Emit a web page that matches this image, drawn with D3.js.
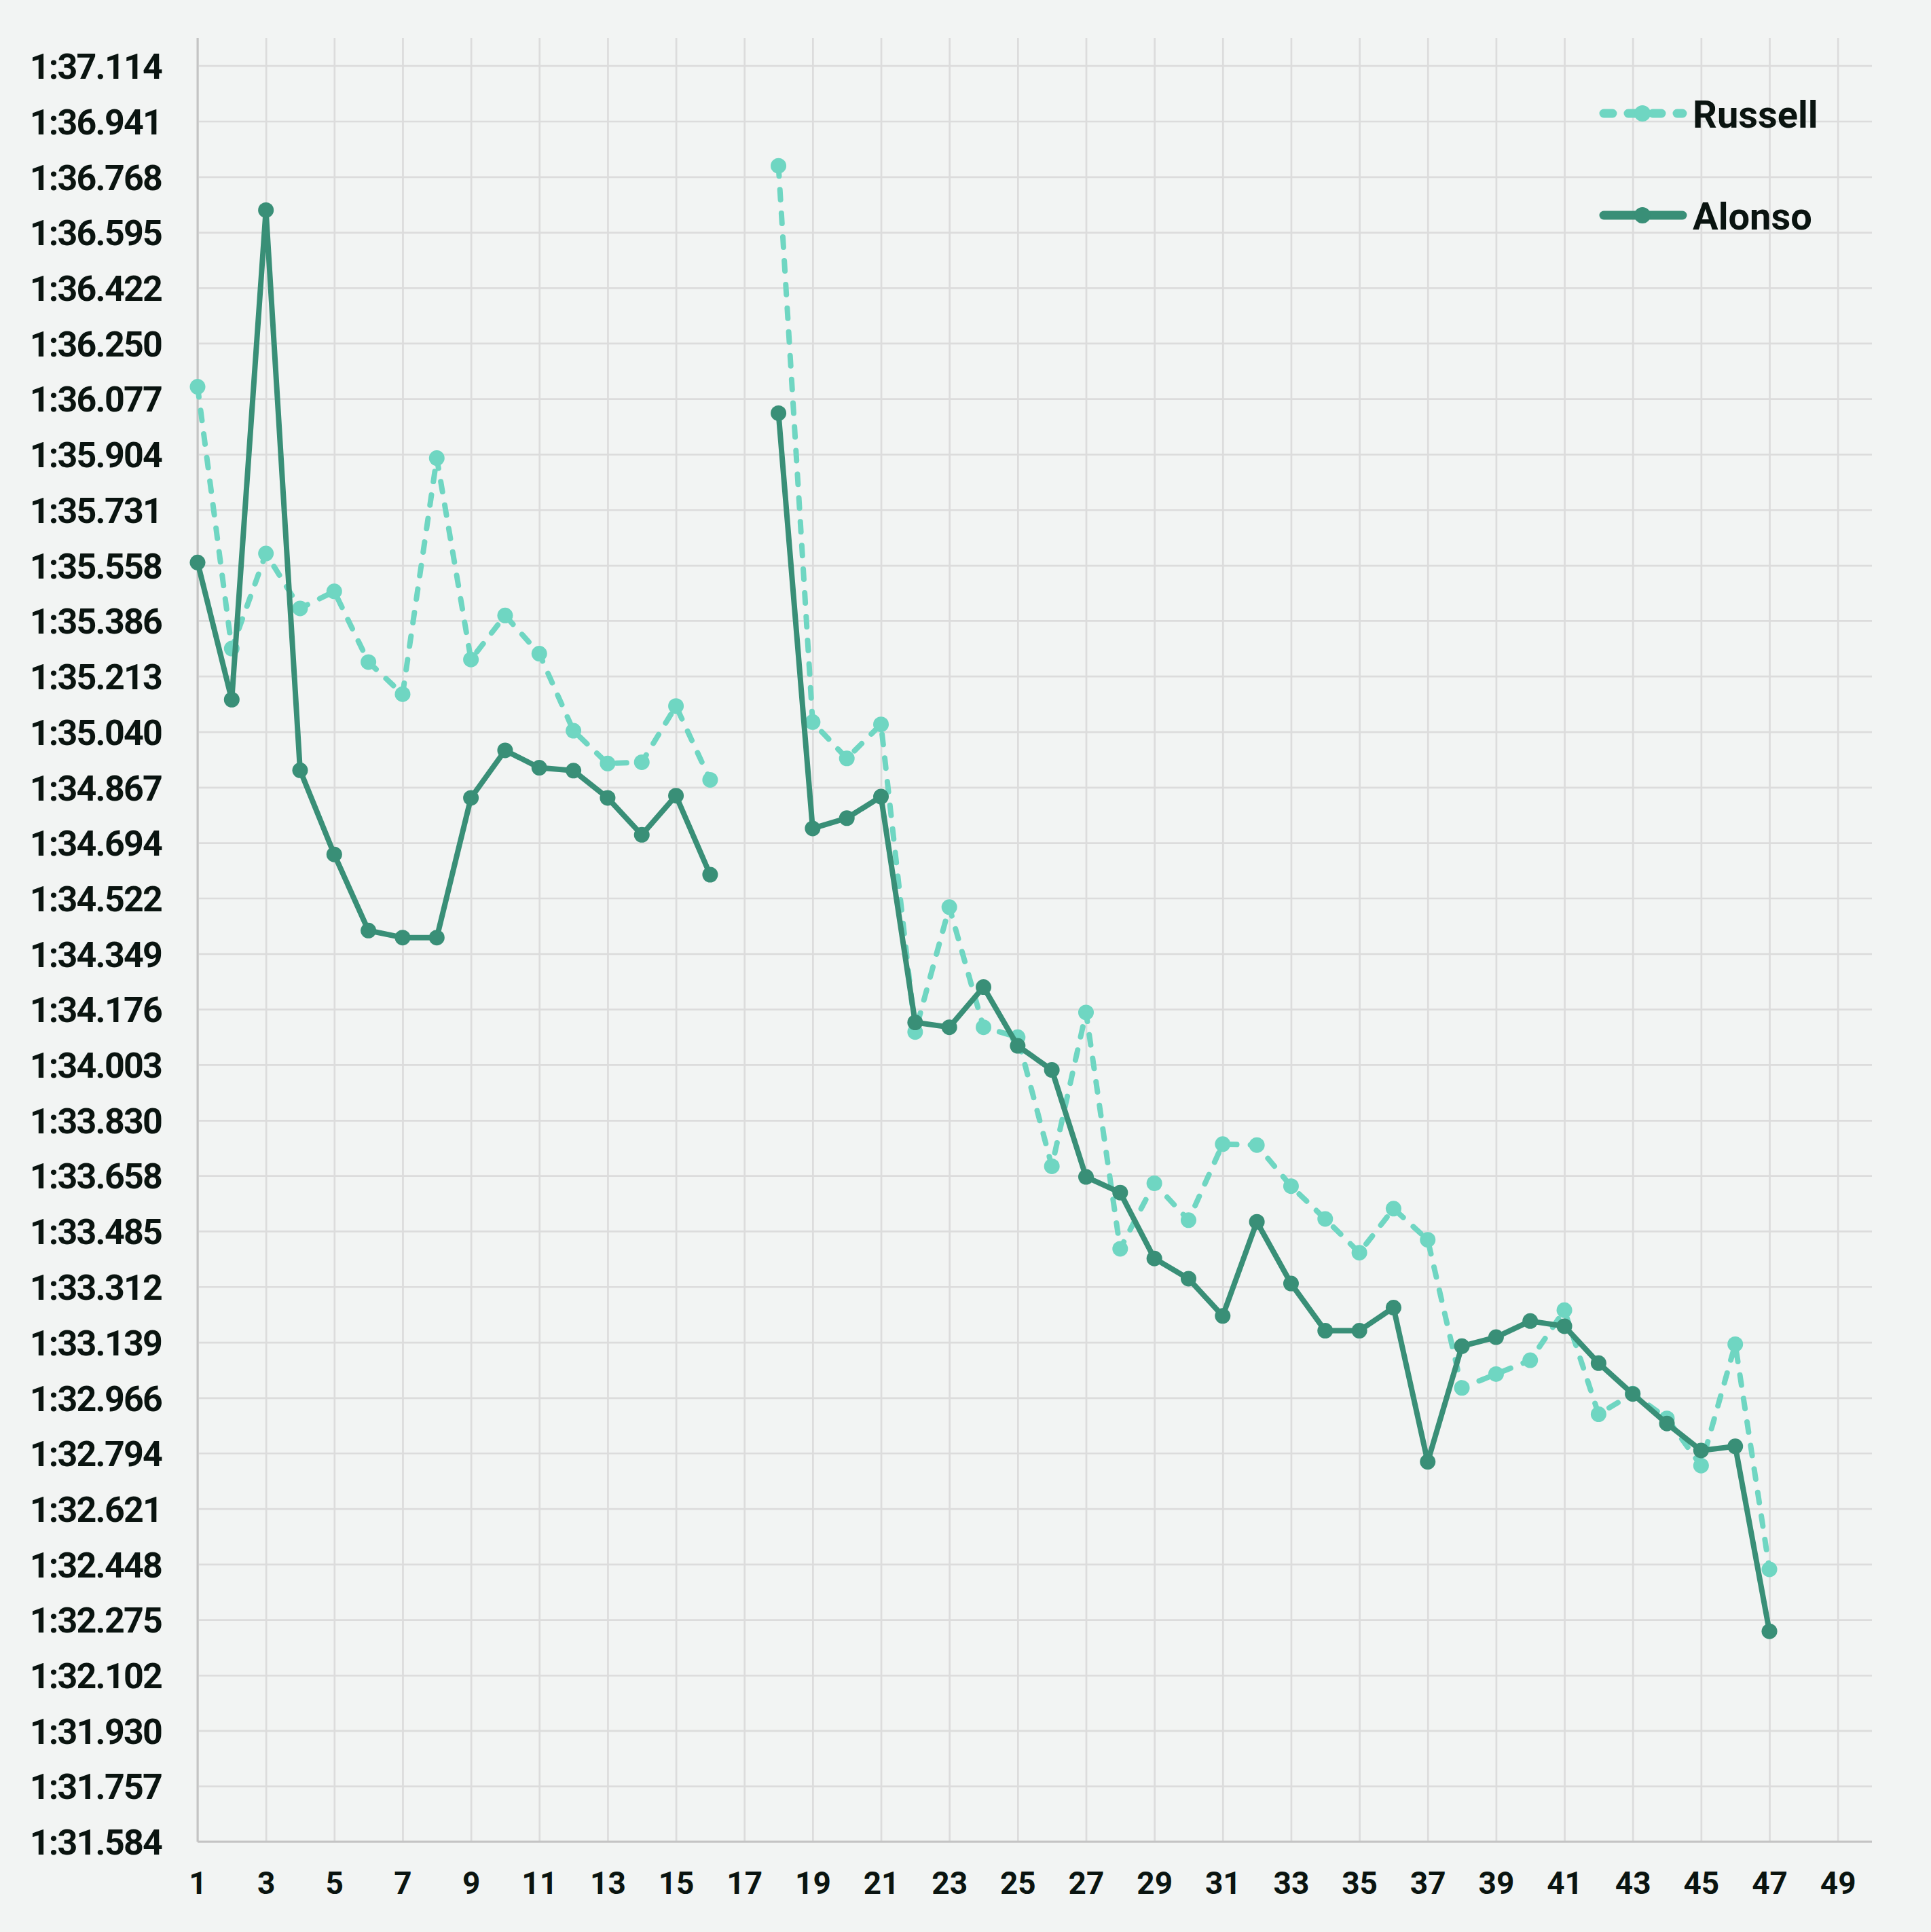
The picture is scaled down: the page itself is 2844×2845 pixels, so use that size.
<!DOCTYPE html>
<html>
<head>
<meta charset="utf-8">
<script src="https://cdn.jsdelivr.net/npm/d3@7"></script>
<style>
  html, body { margin: 0; padding: 0; background: #f2f4f3; }
  svg { display: block; }
</style>
</head>
<body>
<script>
// ---------------- DATA ----------------
const laps = d3.range(1, 48);
const russell = [96.114, 95.299, 95.595, 95.424, 95.477, 95.257, 95.157, 95.892, 95.265, 95.402,
  95.283, 95.043, 94.941, 94.945, 95.120, 94.890, null, 96.802, 95.070, 94.957,
  95.063, 94.105, 94.494, 94.120, 94.089, 93.687, 94.166, 93.430, 93.634, 93.519,
  93.756, 93.753, 93.625, 93.523, 93.418, 93.555, 93.458, 92.997, 93.040, 93.083,
  93.239, 92.915, 92.979, 92.902, 92.755, 93.133, 92.432];
const alonso = [95.567, 95.140, 96.664, 94.920, 94.658, 94.421, 94.399, 94.399, 94.834, 94.982,
  94.928, 94.919, 94.834, 94.719, 94.841, 94.595, null, 96.032, 94.739, 94.771,
  94.838, 94.135, 94.120, 94.245, 94.062, 93.987, 93.654, 93.605, 93.400, 93.337,
  93.221, 93.514, 93.322, 93.175, 93.175, 93.247, 92.767, 93.127, 93.155, 93.205,
  93.189, 93.074, 92.978, 92.886, 92.802, 92.815, 92.239];
const seriesNames = ["Russell", "Alonso"];
const xTickLabels = d3.range(1, 50, 2);
const yTickLabels = ["1:31.584","1:31.757","1:31.930","1:32.102","1:32.275","1:32.448","1:32.621",
  "1:32.794","1:32.966","1:33.139","1:33.312","1:33.485","1:33.658","1:33.830","1:34.003",
  "1:34.176","1:34.349","1:34.522","1:34.694","1:34.867","1:35.040","1:35.213","1:35.386",
  "1:35.558","1:35.731","1:35.904","1:36.077","1:36.250","1:36.422","1:36.595","1:36.768",
  "1:36.941","1:37.114"];

// ---------------- LAYOUT ----------------
const W = 2844, H = 2845;
const plotLeft = 291, plotRight = 2757, plotTop = 56, plotBottom = 2712;
const colors = { Russell: "#6fd6c2", Alonso: "#398f77" };
const textColor = "#0a1410";
const gridColor = "#dcdcdc";
const axisColor = "#c4c4c4";
const font = "Roboto, 'Noto Sans', sans-serif";

const parseLap = s => { const [m, r] = s.split(":"); return +m * 60 + +r; };
const yTickVals = yTickLabels.map(parseLap);
const labelByVal = new Map(yTickVals.map((v, i) => [v, yTickLabels[i]]));

const x = d3.scaleLinear().domain([1, 50]).range([plotLeft, plotRight]);
const y = d3.scaleLinear().domain([91.584, 97.2]).range([plotBottom, plotTop]);

const svg = d3.select("body").append("svg").attr("width", W).attr("height", H);
svg.append("rect").attr("width", W).attr("height", H).attr("fill", "#f2f4f3");

// Y axis with gridlines
const yAxis = svg.append("g").attr("transform", `translate(${plotLeft},0)`)
  .call(d3.axisLeft(y).tickValues(yTickVals).tickFormat(v => labelByVal.get(v))
    .tickSize(-(plotRight - plotLeft)).tickPadding(53));
yAxis.select(".domain").remove();
yAxis.selectAll(".tick line").attr("stroke", gridColor).attr("stroke-width", 2.7);
yAxis.selectAll(".tick text").attr("fill", textColor).attr("font-family", font)
  .attr("font-size", 52).attr("font-weight", 700).attr("letter-spacing", "-1.8px")
  .attr("dy", "0.36em");

// X axis with gridlines
const xAxis = svg.append("g").attr("transform", `translate(0,${plotBottom})`)
  .call(d3.axisBottom(x).tickValues(xTickLabels).tickFormat(d3.format("d"))
    .tickSize(-(plotBottom - plotTop)).tickPadding(44));
xAxis.select(".domain").remove();
xAxis.selectAll(".tick line").attr("stroke", gridColor).attr("stroke-width", 2.7);
xAxis.selectAll(".tick text").attr("fill", textColor).attr("font-family", font)
  .attr("font-size", 46).attr("font-weight", 700);

// Axis lines
svg.append("line").attr("x1", plotLeft).attr("x2", plotLeft).attr("y1", plotTop).attr("y2", plotBottom)
  .attr("stroke", axisColor).attr("stroke-width", 3);
svg.append("line").attr("x1", plotLeft).attr("x2", plotRight).attr("y1", plotBottom).attr("y2", plotBottom)
  .attr("stroke", axisColor).attr("stroke-width", 3);

// Series
const seriesData = { Russell: russell, Alonso: alonso };
const dashes = { Russell: "15 20", Alonso: null };
const line = d3.line().defined(d => d.v != null).x(d => x(d.lap)).y(d => y(d.v));

seriesNames.forEach(name => {
  const pts = laps.map((lap, i) => ({ lap, v: seriesData[name][i] }));
  const g = svg.append("g");
  g.append("path").datum(pts).attr("d", line)
    .attr("fill", "none").attr("stroke", colors[name]).attr("stroke-width", 8)
    .attr("stroke-linecap", "round").attr("stroke-linejoin", "round")
    .attr("stroke-dasharray", dashes[name]);
  g.selectAll("circle").data(pts.filter(d => d.v != null)).join("circle")
    .attr("cx", d => x(d.lap)).attr("cy", d => y(d.v)).attr("r", 11.5)
    .attr("fill", colors[name]);
});

// Legend
const legendY = { Russell: 167, Alonso: 317 };
seriesNames.forEach(name => {
  const g = svg.append("g");
  g.append("line").attr("x1", 2362).attr("x2", 2478)
    .attr("y1", legendY[name]).attr("y2", legendY[name])
    .attr("stroke", colors[name]).attr("stroke-width", 13)
    .attr("stroke-linecap", "round").attr("stroke-dasharray", dashes[name] ? "13 23" : null);
  g.append("circle").attr("cx", 2419).attr("cy", legendY[name]).attr("r", 12).attr("fill", colors[name]);
  g.append("text").attr("x", 2493).attr("y", legendY[name] + 21)
    .attr("fill", textColor).attr("font-family", font).attr("font-size", 56)
    .attr("font-weight", 700).text(name);
});
</script>
</body>
</html>
